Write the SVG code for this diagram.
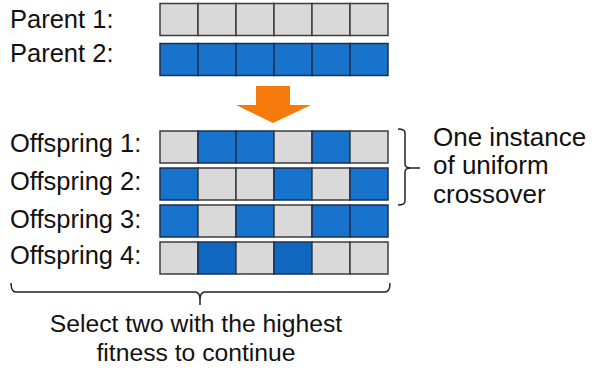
<svg xmlns="http://www.w3.org/2000/svg" width="594" height="370" viewBox="0 0 594 370">
<style>
.t{font-family:"Liberation Sans",Arial,sans-serif;font-size:25.5px;fill:#111}
.r{font-size:26px}
.g{fill:#d9d9d9;stroke:#3c3c3c;stroke-width:1.5}
.b{fill:#1773cc;stroke:#1f2f4a;stroke-width:1.5}
.b2{fill:#0f67bf;stroke:#1f2f4a;stroke-width:1.5}
.br{fill:none;stroke:#222;stroke-width:1.5}
</style>
<rect width="594" height="370" fill="#fff"/>
<g id="parent1">
<text class="t" x="10" y="28">Parent 1:</text>
<rect class="g" x="160" y="3.5" width="38" height="32"/><rect class="g" x="198" y="3.5" width="38" height="32"/><rect class="g" x="236" y="3.5" width="38" height="32"/><rect class="g" x="274" y="3.5" width="38" height="32"/><rect class="g" x="312" y="3.5" width="38" height="32"/><rect class="g" x="350" y="3.5" width="38" height="32"/>
</g>
<g id="parent2">
<text class="t" x="10" y="62">Parent 2:</text>
<rect class="b" x="160" y="43.5" width="38" height="32"/><rect class="b" x="198" y="43.5" width="38" height="32"/><rect class="b" x="236" y="43.5" width="38" height="32"/><rect class="b" x="274" y="43.5" width="38" height="32"/><rect class="b" x="312" y="43.5" width="38" height="32"/><rect class="b" x="350" y="43.5" width="38" height="32"/>
</g>
<g id="arrow">
<polygon points="256,86 290,86 290,105 311,105 273,123 236,105 256,105" fill="#f77b0c"/>
</g>
<g id="offspring1">
<text class="t" x="10" y="152">Offspring 1:</text>
<rect class="g" x="160" y="131" width="38" height="32"/><rect class="b" x="198" y="131" width="38" height="32"/><rect class="b" x="236" y="131" width="38" height="32"/><rect class="g" x="274" y="131" width="38" height="32"/><rect class="b" x="312" y="131" width="38" height="32"/><rect class="g" x="350" y="131" width="38" height="32"/>
</g>
<g id="offspring2">
<text class="t" x="10" y="190">Offspring 2:</text>
<rect class="b" x="160" y="168" width="38" height="32"/><rect class="g" x="198" y="168" width="38" height="32"/><rect class="g" x="236" y="168" width="38" height="32"/><rect class="b" x="274" y="168" width="38" height="32"/><rect class="g" x="312" y="168" width="38" height="32"/><rect class="b" x="350" y="168" width="38" height="32"/>
</g>
<g id="offspring3">
<text class="t" x="10" y="228">Offspring 3:</text>
<rect class="b" x="160" y="205" width="38" height="32"/><rect class="g" x="198" y="205" width="38" height="32"/><rect class="b" x="236" y="205" width="38" height="32"/><rect class="g" x="274" y="205" width="38" height="32"/><rect class="b" x="312" y="205" width="38" height="32"/><rect class="b" x="350" y="205" width="38" height="32"/>
</g>
<g id="offspring4">
<text class="t" x="10" y="264">Offspring 4:</text>
<rect class="g" x="160" y="242" width="38" height="32"/><rect class="b2" x="198" y="242" width="38" height="32"/><rect class="g" x="236" y="242" width="38" height="32"/><rect class="b2" x="274" y="242" width="38" height="32"/><rect class="g" x="312" y="242" width="38" height="32"/><rect class="g" x="350" y="242" width="38" height="32"/>
</g>
<g id="connectors">
<path class="br" d="M398,129 Q405,129 405,133 L405,164 Q405,168 411,168 L420,168 M411,168 Q405,168 405,172 L405,201 Q405,205 398,205"/>
<path class="br" d="M11,283 Q11,292 16,292 L195,292 Q200,292 200,300 L200,305 M200,300 Q200,292 205,292 L385,292 Q390,292 390,283"/>
</g>
<g id="note-right">
<text class="t r" x="433" y="146">One instance</text>
<text class="t r" x="433" y="174">of uniform</text>
<text class="t r" x="433" y="203">crossover</text>
</g>
<g id="note-bottom">
<text class="t" x="196" y="332" text-anchor="middle" style="font-size:24.7px">Select two with the highest</text>
<text class="t" x="196" y="361" text-anchor="middle" style="font-size:24.7px">fitness to continue</text>
</g>
</svg>
